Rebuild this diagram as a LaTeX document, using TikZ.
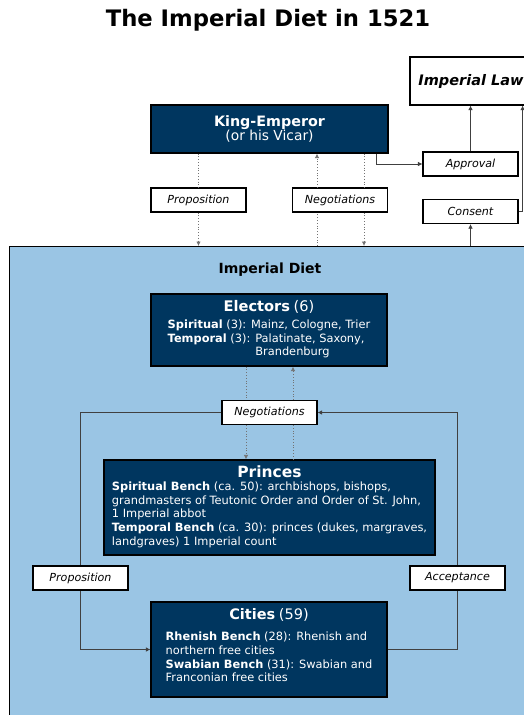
\documentclass[tikz,border=0pt]{standalone}
\usepackage{fontspec}
\setmainfont{DejaVu Sans}
\usetikzlibrary{arrows.meta}
\definecolor{navy}{HTML}{00365F}
\definecolor{dietblue}{HTML}{9AC5E4}

\begin{document}
\begin{tikzpicture}
    [x=1pt,y=-1pt,
    font=\fontsize{11.4}{13.7}\selectfont,
    >={Latex[length=4.5pt,width=4.5pt]},
    darkbox/.style={draw=black,line width=1.2pt,fill=navy,text=white,align=center,inner sep=0pt},
    labelbox/.style={draw=black,line width=1.2pt,fill=white,minimum width=95pt,minimum height=24pt,
        inner sep=0pt,font=\fontsize{11.1}{12}\selectfont\itshape},
    flow/.style={draw=black!75,line width=0.6pt},
    talk/.style={draw=black!55,dotted,line width=0.8pt}]
\clip (0,0) rectangle (524,715);
\fill [white] (0,0) rectangle (524,715);

\node [font=\fontsize{22.7}{26}\selectfont\bfseries] (title) at (268,20) {The Imperial Diet in 1521};

\path
    (9,246) node [draw,line width=1.2pt,fill=dietblue,anchor=north west,
        minimum width=560pt,minimum height=500pt] (diet) {}
    (270,270) node [font=\fontsize{14}{16}\selectfont\bfseries] (dietlabel) {Imperial Diet};

\node [draw,line width=1.2pt,fill=white,minimum width=122pt,minimum height=48pt,
    font=\fontsize{14.5}{16}\selectfont\bfseries\itshape] (law) at (471,81) {Imperial Law};

\node [darkbox,minimum width=237pt,minimum height=48pt] (king) at (269.5,129)
    {{\fontsize{14.3}{17}\selectfont\bfseries King-Emperor}\\[1pt]
     {\fontsize{13.8}{15}\selectfont (or his Vicar)}};

\node [darkbox,minimum width=236pt,minimum height=72pt] (electors) at (269,330)
    {{\fontsize{14.6}{16}\selectfont\bfseries Electors} {\fontsize{14.6}{16}\selectfont (6)}\\[5pt]
     \begin{tabular}{@{}l@{}}
     \textbf{Spiritual} (3): Mainz, Cologne, Trier\\
     \textbf{Temporal} (3): Palatinate, Saxony,\\
     \phantom{\textbf{Temporal} (3): }Brandenburg
     \end{tabular}};

\node [darkbox,minimum width=331pt,minimum height=95pt] (princes) at (269.5,507.5)
    {{\fontsize{15.5}{17}\selectfont\bfseries Princes}\\[2pt]
     \begin{tabular}{@{}l@{}}
     \textbf{Spiritual Bench} (ca. 50): archbishops, bishops,\\
     grandmasters of Teutonic Order and Order of St. John,\\
     1 Imperial abbot\\
     \textbf{Temporal Bench} (ca. 30): princes (dukes, margraves,\\
     landgraves) 1 Imperial count
     \end{tabular}};

\node [darkbox,minimum width=236pt,minimum height=95pt] (cities) at (269,649.5)
    {{\fontsize{14.5}{16}\selectfont\bfseries Cities} {\fontsize{14.5}{16}\selectfont (59)}\\[9pt]
     \begin{tabular}{@{}l@{}}
     \textbf{Rhenish Bench} (28): Rhenish and\\
     northern free cities\\
     \textbf{Swabian Bench} (31): Swabian and\\
     Franconian free cities
     \end{tabular}\\[4pt]};

\path
    (470.5,164) node [labelbox] (approval) {Approval}
    (470.5,211.5) node [labelbox] (consent) {Consent}
    (198.5,200) node [labelbox] (prop1) {Proposition}
    (340,200) node [labelbox] (neg1) {Negotiations}
    (269.5,412.5) node [labelbox] (neg2) {Negotiations}
    (80.5,578) node [labelbox] (prop2) {Proposition}
    (457.5,578) node [labelbox] (accept) {Acceptance};

% king and diet
\draw [talk] (prop1.north |- king.south) -- (prop1.north);
\draw [talk,->] (prop1.south) -- (prop1.south |- diet.north);
\path
    (neg1.south) +(-23,0) coordinate (up1)
    (neg1.south) +(24,0) coordinate (down1);
\draw [talk] (up1 |- diet.north) -- (up1);
\draw [talk,->] (up1 |- neg1.north) -- (up1 |- king.south);
\draw [talk] (down1 |- king.south) -- (down1 |- neg1.north);
\draw [talk,->] (down1) -- (down1 |- diet.north);

% law
\path (king.south east) +(-12,0) coordinate (kout);
\draw [flow,->] (kout) |- (approval.west);
\draw [flow,->] (approval.north) -- (approval.north |- law.south);
\draw [flow,->] (consent.south |- diet.north) -- (consent.south);
\draw [flow,->] (consent.east) -- ++(4,0) coordinate (cout) -- (cout |- law.south);

% electors and princes
\path
    (neg2.south) +(-23.5,0) coordinate (down2)
    (neg2.south) +(23.5,0) coordinate (up2);
\draw [talk] (down2 |- electors.south) -- (down2 |- neg2.north);
\draw [talk,->] (down2) -- (down2 |- princes.north);
\draw [talk] (up2 |- princes.north) -- (up2);
\draw [talk,->] (up2 |- neg2.north) -- (up2 |- electors.south);

% cities
\draw [flow] (neg2.west) -| (prop2.north);
\draw [flow,->] (prop2.south) |- (cities.west);
\draw [flow] (cities.east) -| (accept.south);
\draw [flow,->] (accept.north) |- (neg2.east);
\end{tikzpicture}
\end{document}
